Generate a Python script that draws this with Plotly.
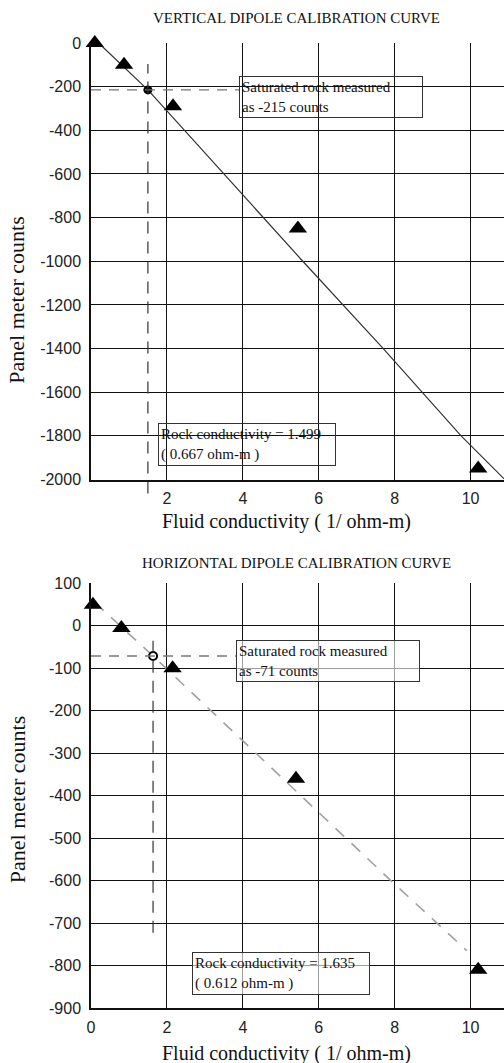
import plotly.graph_objects as go

# ---------------- data ----------------
# Vertical dipole
v_pts_x = [0.1, 0.87, 2.16, 5.45, 10.2]
v_pts_y = [0, -100, -290, -850, -1950]
v_line_x = [0.2, 1.499, 5.58, 7.7, 9.75, 10.9]
v_line_y = [0, -215, -1000, -1400, -1800, -2000]
v_rock_x = [1.499]
v_rock_y = [-215]

# Horizontal dipole
h_pts_x = [0.05, 0.8, 2.15, 5.4, 10.2]
h_pts_y = [50, -5, -100, -360, -810]
h_line_x = [0.1, 1.635, 5.53, 7.9, 9.9]
h_line_y = [55, -71, -400, -600, -765]
h_rock_x = [1.635]
h_rock_y = [-71]

x_ticks = [0, 2, 4, 6, 8, 10]
v_y_ticks = [0, -200, -400, -600, -800, -1000, -1200, -1400, -1600, -1800, -2000]
h_y_ticks = [100, 0, -100, -200, -300, -400, -500, -600, -700, -800, -900]

SERIF = "Liberation Serif"
SANS = "Liberation Sans"
INK = "#111111"
W, H = 504, 1063
L = 91
PW = W - L


def ty(yp):
    # map a target screen row to a layout row (compensates page offset)
    return (yp - 7) / 0.985


def px(xp):
    return (xp - L) / PW


def py(yp):
    return 1 - ty(yp) / H


fig = go.Figure()

# top chart traces
fig.add_trace(go.Scatter(x=v_line_x, y=v_line_y, mode="lines",
                         line=dict(color="#333333", width=1.2),
                         xaxis="x", yaxis="y", showlegend=False))
fig.add_trace(go.Scatter(x=v_pts_x, y=v_pts_y, mode="markers",
                         marker=dict(symbol="triangle-up", size=16, color="black"),
                         xaxis="x", yaxis="y", showlegend=False, cliponaxis=False))
fig.add_trace(go.Scatter(x=v_rock_x, y=v_rock_y, mode="markers",
                         marker=dict(symbol="circle", size=9, color="black"),
                         xaxis="x", yaxis="y", showlegend=False))

# bottom chart traces
fig.add_trace(go.Scatter(x=h_line_x, y=h_line_y, mode="lines",
                         line=dict(color="#a0a0a0", width=1.6, dash="12px,10px"),
                         xaxis="x2", yaxis="y2", showlegend=False))
fig.add_trace(go.Scatter(x=h_pts_x, y=h_pts_y, mode="markers",
                         marker=dict(symbol="triangle-up", size=16, color="black"),
                         xaxis="x2", yaxis="y2", showlegend=False, cliponaxis=False))
fig.add_trace(go.Scatter(x=h_rock_x, y=h_rock_y, mode="markers",
                         marker=dict(symbol="circle", size=8, color="white",
                                     line=dict(color="black", width=2)),
                         xaxis="x2", yaxis="y2", showlegend=False))

top_dom = [py(479), py(42)]
bot_dom = [py(1008), py(583)]

axis_common = dict(showgrid=True, gridcolor=INK, gridwidth=1,
                   showline=True, linecolor=INK, linewidth=1.5,
                   zeroline=False, ticks="",
                   tickfont=dict(family=SANS, size=16, color="#222222"))

fig.update_layout(
    width=W, height=H,
    margin=dict(l=L, r=0, t=0, b=0),
    paper_bgcolor="white", plot_bgcolor="white",
    xaxis=dict(domain=[0, 1], range=[0, 10.88], anchor="y", ticklabelstandoff=4,
               tickvals=x_ticks[1:], ticktext=[str(v) for v in x_ticks[1:]], **axis_common),
    yaxis=dict(domain=top_dom, range=[-2000, 0], anchor="x", ticklabelstandoff=5,
               tickvals=v_y_ticks, ticktext=[str(v) for v in v_y_ticks], **axis_common),
    xaxis2=dict(domain=[0, 1], range=[0, 10.88], anchor="y2", ticklabelstandoff=4,
                tickvals=x_ticks, ticktext=[str(v) for v in x_ticks], **axis_common),
    yaxis2=dict(domain=bot_dom, range=[-900, 100], anchor="x2", ticklabelstandoff=5,
                tickvals=h_y_ticks, ticktext=[str(v) for v in h_y_ticks], **axis_common),
)

shapes = []
# top: dashed guide lines
shapes.append(dict(type="line", xref="x", yref="y", x0=0, x1=3.9,
                   y0=v_rock_y[0], y1=v_rock_y[0],
                   line=dict(color="#777777", width=1.3, dash="10px,8px")))
shapes.append(dict(type="line", xref="x", yref="paper", x0=v_rock_x[0], x1=v_rock_x[0],
                   y0=py(493), y1=py(63),
                   line=dict(color="#333333", width=1.2, dash="12px,8px")))
# bottom: dashed guide lines
shapes.append(dict(type="line", xref="x2", yref="y2", x0=0, x1=3.83,
                   y0=h_rock_y[0], y1=h_rock_y[0],
                   line=dict(color="#777777", width=1.3, dash="10px,8px")))
shapes.append(dict(type="line", xref="x2", yref="y2", x0=h_rock_x[0], x1=h_rock_x[0],
                   y0=-723, y1=-16,
                   line=dict(color="#333333", width=1.2, dash="12px,8px")))
fig.update_layout(shapes=shapes)

ann = []
# titles
ann.append(dict(text="VERTICAL DIPOLE CALIBRATION CURVE", xref="paper", yref="paper",
                x=px(296), y=py(17), showarrow=False,
                font=dict(family=SERIF, size=15, color=INK), xanchor="center", yanchor="middle"))
ann.append(dict(text="HORIZONTAL DIPOLE CALIBRATION CURVE", xref="paper", yref="paper",
                x=px(296), y=py(563), showarrow=False,
                font=dict(family=SERIF, size=15, color=INK), xanchor="center", yanchor="middle"))
# axis titles
for yy in [521, 1054]:
    ann.append(dict(text="Fluid conductivity ( 1/ ohm-m)", xref="paper", yref="paper",
                    x=px(286), y=py(yy), showarrow=False,
                    font=dict(family=SERIF, size=20, color=INK), xanchor="center", yanchor="middle"))
for yy in [300, 800]:
    ann.append(dict(text="Panel meter counts", xref="paper", yref="paper",
                    x=px(17), y=py(yy), showarrow=False, textangle=-90,
                    font=dict(family=SERIF, size=22, color=INK), xanchor="center", yanchor="middle"))
# boxes
box_font = dict(family=SERIF, size=15, color=INK)
ann.append(dict(text="Saturated rock measured<br>as -215 counts", xref="x", yref="y",
                x=3.9, y=-246, xanchor="left", yanchor="middle", showarrow=False, align="left",
                font=box_font, bordercolor="#333333", borderwidth=1, borderpad=2, width=178,
                bgcolor="rgba(255,255,255,0)"))
ann.append(dict(text="Rock conductivity = 1.499<br>( 0.667 ohm-m )", xref="x", yref="y",
                x=1.76, y=-1840, xanchor="left", yanchor="middle", showarrow=False, align="left",
                font=box_font, bordercolor="#333333", borderwidth=1, borderpad=2, width=172,
                bgcolor="rgba(255,255,255,0)"))
ann.append(dict(text="Saturated rock measured<br>as -71 counts", xref="x2", yref="y2",
                x=3.83, y=-82, xanchor="left", yanchor="middle", showarrow=False, align="left",
                font=box_font, bordercolor="#333333", borderwidth=1, borderpad=2, width=178,
                bgcolor="rgba(255,255,255,0.6)"))
ann.append(dict(text="Rock conductivity = 1.635<br>( 0.612 ohm-m )", xref="x2", yref="y2",
                x=2.66, y=-819, xanchor="left", yanchor="middle", showarrow=False, align="left",
                font=box_font, bordercolor="#333333", borderwidth=1, borderpad=2, width=172,
                bgcolor="rgba(255,255,255,0.6)"))
fig.update_layout(annotations=ann)

fig.write_html("out.html", config={"displayModeBar": False},
               post_script="document.body.style.margin='0';document.body.style.overflow='hidden';")
